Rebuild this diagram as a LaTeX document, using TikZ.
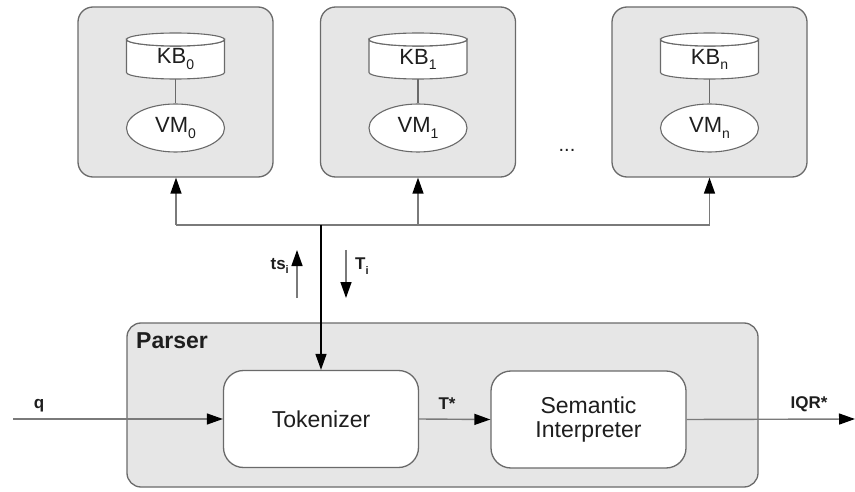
\documentclass[tikz,border=0pt]{standalone}
\usepackage{fontspec}
\setmainfont{Liberation Sans}
\usetikzlibrary{arrows.meta,shapes.geometric}

\definecolor{ink}{HTML}{1E1E1E}
\definecolor{edge}{HTML}{6A6A6A}
\definecolor{wire}{HTML}{7A7A7A}
\definecolor{panel}{HTML}{E6E6E6}

% lowered index in the style of the drawing
\newcommand\lowidx[1]{\raisebox{-5.5pt}{\fontsize{14}{14}\selectfont #1}}
\newcommand\lowlbl[1]{\raisebox{-4.5pt}{\fontsize{11}{11}\selectfont #1}}

\tikzset{
  tip/.style={-{Triangle[length=16pt,width=11pt,color=black]}},
  module/.style={draw=edge, line width=1.3pt, fill=panel, rounded corners=15pt,
    minimum width=195pt, minimum height=170pt, inner sep=0pt},
  parserbox/.style={draw=edge, line width=1.3pt, fill=panel, rounded corners=14pt,
    minimum width=631pt, minimum height=164pt, inner sep=0pt},
  stage/.style={draw=edge, line width=1.3pt, fill=white, rounded corners=20pt,
    minimum width=195pt, minimum height=97pt, inner sep=0pt, align=center,
    text=ink, font=\fontsize{23}{27}\selectfont},
  cylline/.style={draw=edge, line width=1.1pt, fill=white},
  kbtext/.style={minimum width=98pt, minimum height=39.5pt, inner sep=0pt,
    text=ink, font=\fontsize{22}{26}\selectfont},
  vmnode/.style={ellipse, draw=edge, line width=1.1pt, fill=white,
    minimum width=98pt, minimum height=48pt, inner sep=0pt,
    text=ink, font=\fontsize{22}{26}\selectfont},
  link/.style={draw=edge, line width=1.1pt},
  wireline/.style={draw=wire, line width=1.4pt},
  mainline/.style={draw=black, line width=1.5pt},
  lbl/.style={inner sep=0pt, text=ink, font=\bfseries\fontsize{17}{20}\selectfont},
}

\begin{document}
\begin{tikzpicture}[x=1pt,y=-1pt]
\useasboundingbox (0,0) rectangle (855,492);

% knowledge-base modules
\node[module] (m0) at (175.5,92) {};
\node[module] (m1) at (418,92) {};
\node[module] (mn) at (709.5,92) {};

\foreach \cx/\s in {175.5/0, 418/1, 709.5/n}{
  \path[cylline] (\cx-49,39.5) -- (\cx-49,72.5)
    arc[start angle=180,end angle=360,x radius=49pt,y radius=6.5pt]
    -- (\cx+49,39.5)
    arc[start angle=0,end angle=-180,x radius=49pt,y radius=6.5pt] -- cycle;
  \draw[cylline] (\cx,39.5) ellipse[x radius=49pt,y radius=6.5pt];
  \node[kbtext] (kb\s) at (\cx,59.25) {KB\lowidx{\s}};
  \node[vmnode] (vm\s) at (\cx,128) {VM\lowidx{\s}};
  \draw[link] (kb\s.south) -- (vm\s.north);
}

\node[inner sep=0pt, text=ink, font=\fontsize{20}{24}\selectfont] (dots) at (567,150) {...};

% parser
\node[parserbox] (parser) at (442.5,405) {};
\node[lbl, anchor=west, font=\bfseries\fontsize{23}{27}\selectfont] (plabel) at (136,341) {Parser};
\node[stage] (tok) at (321,419) {Tokenizer};
\node[stage] (sem) at (588.5,419.5) {Semantic\\[-3pt]Interpreter};

% bus between parser and modules
\coordinate (j0) at (176,225);
\coordinate (j1) at (418,225);
\coordinate (jn) at (709.5,225);
\coordinate (jbus) at (321,225);
\draw[wireline] (j0) -- (jn);
\draw[wireline, tip] (j0) -- (m0.south -| j0);
\draw[wireline, tip] (j1) -- (m1.south);
\draw[wireline, tip] (jn) -- (mn.south);
\draw[mainline, tip] (jbus) -- (tok.north);

% exchange labels
\coordinate (tsb) at (297,298);
\coordinate (tst) at (297,250);
\draw[wireline, tip] (tsb) -- (tst);
\node[lbl, anchor=east] (tslabel) at (289,266) {ts\lowlbl{i}};
\coordinate (tb) at (346,250);
\coordinate (tt) at (346,298);
\draw[wireline, tip] (tb) -- (tt);
\node[lbl, anchor=west] (tlabel) at (355,266) {T\lowlbl{i}};

% data flow
\coordinate (qin) at (13,419);
\coordinate (qout) at (855,419);
\draw[wireline, tip] (qin) -- (tok.west);
\node[lbl] (qlabel) at (39,406) {q};
\draw[wireline, tip] (tok.east) -- (sem.west);
\node[lbl] (tslbl) at (447,404) {T*};
\draw[wireline, tip] (sem.east) -- (qout);
\node[lbl] (iqr) at (809,404) {IQR*};
\end{tikzpicture}
\end{document}
